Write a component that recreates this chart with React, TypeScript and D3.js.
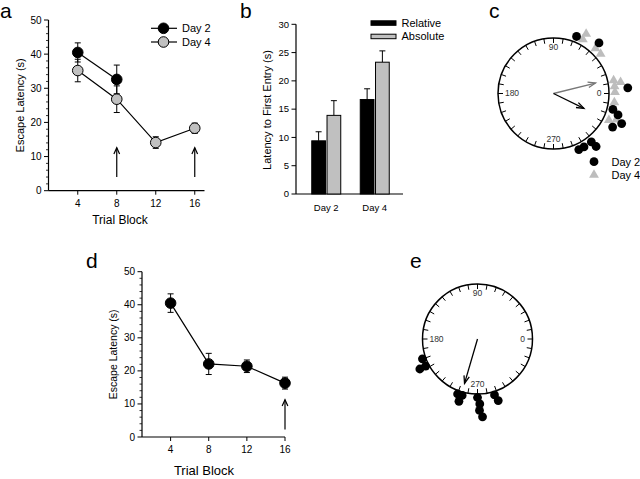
import React from 'react';
import * as d3 from 'd3';

// ---------- data ----------
const trialBlocks = [4, 8, 12, 16];
const day2Blocks = [4, 8];
const day2Latency = [40.5, 32.6];
const day2Err = [2.8, 4.2];
const day4Latency = [35.2, 26.8, 14.1, 18.3];
const day4Err = [3.3, 3.9, 1.7, 1.5];
const arrowBlocksA = [8, 16];
const latencyTicks = [0, 10, 20, 30, 40, 50];

const barGroups = ['Day 2', 'Day 4'];
const barSeries = ['Relative', 'Absolute'];
const relativeLatency = [9.4, 16.7];
const relativeErr = [1.6, 1.9];
const absoluteLatency = [13.9, 23.3];
const absoluteErr = [2.6, 2.0];
const entryTicks = [0, 5, 10, 15, 20, 25, 30];

const dLatency = [40.5, 22.1, 21.4, 16.3];
const dErr = [2.8, 3.2, 1.9, 1.8];
const arrowBlocksD = [16];

const cDay2Angles = [68, 48, 4.4, 345, 341.6, 336.2, 330.4, 308.8, 308, 299.7, 294.3];
const cDay2Levels = [0, 1, 2, 0, 1, 2, 1, 1, 0, 0, 0];
const cDay4Angles = [61.5, 61.3, 47, 40, 12.2, 9.6, 6.6, 1.2, 351.6, 334.2, 337.4];
const cDay4Levels = [0, 1, 0, 0, 0, 1, 0, 0, 0, 0, 1];
const cMeanAngles = [14, 334]; // Day 4 (gray), Day 2 (black)
const cMeanLengths = [0.78, 0.61];
const eAngles = [199.8, 207.6, 207.5, 250.1, 254.8, 253.4, 270, 272, 271.6, 273.7, 286.9, 288.6];
const eLevels = [0, 0, 1, 0, 0, 1, 0, 1, 2, 3, 0, 1];
const eMeanAngle = 253.7;
const eMeanLength = 0.84;
const dialLabels = [0, 90, 180, 270];

const FONT = '"Liberation Sans", Arial, sans-serif';
const GRAY = '#c0c0c0';

// ---------- helpers ----------
const angleScale = d3.scaleLinear().domain([0, 360]).range([0, 2 * Math.PI]);

function polar(cx: number, cy: number, deg: number, dist: number) {
  const a = angleScale(deg);
  return [cx + dist * Math.cos(a), cy - dist * Math.sin(a)];
}

function arrowHead(x1: number, y1: number, x2: number, y2: number, len = 7, spread = 0.4) {
  const ang = Math.atan2(y2 - y1, x2 - x1);
  const a1 = ang + Math.PI - spread;
  const a2 = ang + Math.PI + spread;
  return `M${x2 + len * Math.cos(a1)},${y2 + len * Math.sin(a1)}L${x2},${y2}L${x2 + len * Math.cos(a2)},${y2 + len * Math.sin(a2)}`;
}

function ErrBar({ x, y0, y1, w = 3 }: { x: number; y0: number; y1: number; w?: number }) {
  return (
    <g stroke="#000" strokeWidth={1}>
      <line x1={x} x2={x} y1={y0} y2={y1} />
      <line x1={x - w} x2={x + w} y1={y0} y2={y0} />
      <line x1={x - w} x2={x + w} y1={y1} y2={y1} />
    </g>
  );
}

function YAxis({ y, x, ticks, minor, fontSize }: { y: d3.ScaleLinear<number, number>; x: number; ticks: number[]; minor: number[]; fontSize: number }) {
  const [r0, r1] = y.range();
  return (
    <g>
      <line x1={x} x2={x} y1={r0} y2={r1} stroke="#000" strokeWidth={1.2} />
      {minor.map((t) => (
        <line key={'m' + t} x1={x - 2.5} x2={x} y1={y(t)} y2={y(t)} stroke="#000" strokeWidth={0.8} />
      ))}
      {ticks.map((t) => (
        <g key={t}>
          <line x1={x - 4.5} x2={x} y1={y(t)} y2={y(t)} stroke="#000" strokeWidth={1} />
          <text x={x - 7} y={y(t)} dy="0.35em" textAnchor="end" fontSize={fontSize} fontFamily={FONT}>{t}</text>
        </g>
      ))}
    </g>
  );
}

function LatencyPanel(props: {
  xRange: [number, number]; xDomain: [number, number]; yRange: [number, number];
  series: { blocks: number[]; vals: number[]; errs: number[]; fill: string }[];
  arrows: number[]; arrowFrom: number; arrowTo: number;
  yLabelX: number; xLabelY: number; xLabelX: number; yLabelSize: number; xLabelSize: number;
}) {
  const x = d3.scaleLinear().domain(props.xDomain).range(props.xRange);
  const y = d3.scaleLinear().domain([0, 50]).range(props.yRange);
  const line = d3.line<[number, number]>().x((d) => x(d[0])).y((d) => y(d[1]));
  const x0 = props.xRange[0];
  const minor = d3.range(0, 51, 2).filter((v) => v % 10 !== 0);
  return (
    <g>
      <line x1={x0} x2={props.xRange[1]} y1={y(0)} y2={y(0)} stroke="#000" strokeWidth={1.2} />
      {trialBlocks.map((t) => (
        <g key={t}>
          <line x1={x(t)} x2={x(t)} y1={y(0)} y2={y(0) + 4} stroke="#000" />
          <text x={x(t)} y={y(0) + 16} textAnchor="middle" fontSize={10} fontFamily={FONT}>{t}</text>
        </g>
      ))}
      <YAxis y={y} x={x0} ticks={latencyTicks} minor={minor} fontSize={10} />
      <text transform={`translate(${props.yLabelX},${(props.yRange[0] + props.yRange[1]) / 2}) rotate(-90)`} textAnchor="middle" fontSize={props.yLabelSize} fontFamily={FONT}>Escape Latency (s)</text>
      <text x={props.xLabelX} y={props.xLabelY} textAnchor="middle" fontSize={props.xLabelSize} fontFamily={FONT}>Trial Block</text>
      {props.arrows.map((b) => (
        <g key={b} stroke="#000" strokeWidth={1.2} fill="none">
          <line x1={x(b)} x2={x(b)} y1={y(props.arrowFrom)} y2={y(props.arrowTo)} />
          <path d={arrowHead(x(b), y(props.arrowFrom), x(b), y(props.arrowTo), 7, 0.42)} />
        </g>
      ))}
      {props.series.map((s, si) => (
        <g key={si}>
          <path d={line(s.blocks.map((b, i) => [b, s.vals[i]]) as [number, number][]) || ''} fill="none" stroke="#000" strokeWidth={1.2} />
          {s.blocks.map((b, i) => (
            <ErrBar key={b} x={x(b)} y0={y(s.vals[i] + s.errs[i])} y1={y(s.vals[i] - s.errs[i])} />
          ))}
          {s.blocks.map((b, i) => (
            <circle key={'c' + b} cx={x(b)} cy={y(s.vals[i])} r={5.3} fill={s.fill} stroke="#000" strokeWidth={1} />
          ))}
        </g>
      ))}
    </g>
  );
}

function Dial(props: {
  cx: number; cy: number; r: number; base: number; step: number;
  groups: { angles: number[]; levels: number[]; shape: 'circle' | 'triangle'; fill: string }[];
  means: { angle: number; len: number; color: string }[];
}) {
  const { cx, cy, r } = props;
  const lvl = d3.scaleLinear().domain([0, 1]).range([r + props.base, r + props.base + props.step]);
  const tickAngles = d3.range(0, 360, 10);
  const tri = d3.symbol().type(d3.symbolTriangle).size(42)();
  return (
    <g>
      <circle cx={cx} cy={cy} r={r} fill="#fff" stroke="#000" strokeWidth={1.5} />
      {tickAngles.map((a) => {
        const [x1, y1] = polar(cx, cy, a, r);
        const [x2, y2] = polar(cx, cy, a, r - 5);
        return <line key={a} x1={x1} y1={y1} x2={x2} y2={y2} stroke="#000" strokeWidth={1} />;
      })}
      {dialLabels.map((a) => {
        const [lx, ly] = polar(cx, cy, a, a === 180 ? r - 14 : a === 0 ? r - 10 : r - 9.5);
        return (
          <text key={a} x={lx} y={ly} dy="0.35em" textAnchor="middle" fontSize={8.5} fill="#333" fontFamily={FONT}>{a}</text>
        );
      })}
      {props.means.map((m, i) => {
        const [ex, ey] = polar(cx, cy, m.angle, m.len * r);
        return (
          <g key={i} stroke={m.color} strokeWidth={1.3} fill="none">
            <line x1={cx} y1={cy} x2={ex} y2={ey} />
            <path d={arrowHead(cx, cy, ex, ey, 8, 0.35)} />
          </g>
        );
      })}
      {props.groups.map((g, gi) => (
        <g key={gi}>
          {g.angles.map((a, i) => {
            const [px, py] = polar(cx, cy, a, lvl(g.levels[i]));
            return g.shape === 'circle' ? (
              <circle key={i} cx={px} cy={py} r={4.4} fill={g.fill} />
            ) : (
              <path key={i} d={tri || ''} transform={`translate(${px},${py})`} fill={g.fill} />
            );
          })}
        </g>
      ))}
    </g>
  );
}

export default function App() {
  // panel b scales
  const yb = d3.scaleLinear().domain([0, 30]).range([194, 24.3]);
  const xb = d3.scaleBand<string>().domain(barGroups).range([302, 399]).padding(0);
  const xs = d3.scaleBand<string>().domain(barSeries)
    .range([xb.bandwidth() / 2 - 14.5, xb.bandwidth() / 2 + 14.5]).paddingInner(0.1);
  const seriesVals = [relativeLatency, absoluteLatency];
  const seriesErrs = [relativeErr, absoluteErr];
  const seriesFill = ['#000', GRAY];
  const triLegend = d3.symbol().type(d3.symbolTriangle).size(42)();

  return (
    <svg width={640} height={479} style={{ position: 'absolute', left: 0, top: 0, background: '#fff' }}>
      {/* panel labels */}
      <g fontFamily={FONT} fontSize={21}>
        <text x={0} y={18}>a</text>
        <text x={240} y={18}>b</text>
        <text x={489} y={18}>c</text>
        <text x={86} y={268}>d</text>
        <text x={410} y={268}>e</text>
      </g>

      {/* panel a */}
      <LatencyPanel
        xRange={[48.5, 204.5]} xDomain={[1, 17]} yRange={[190.7, 20]}
        series={[
          { blocks: day2Blocks, vals: day2Latency, errs: day2Err, fill: '#000' },
          { blocks: trialBlocks, vals: day4Latency, errs: day4Err, fill: GRAY },
        ]}
        arrows={arrowBlocksA} arrowFrom={4} arrowTo={12.6}
        yLabelX={24} xLabelY={224} xLabelX={120} yLabelSize={11} xLabelSize={12}
      />
      <g fontFamily={FONT} fontSize={11}>
        {['Day 2', 'Day 4'].map((lab, i) => (
          <g key={lab}>
            <line x1={151} x2={177} y1={28.3 + i * 13.7} y2={28.3 + i * 13.7} stroke="#000" strokeWidth={1.2} />
            <circle cx={163.5} cy={28.3 + i * 13.7} r={5.3} fill={i === 0 ? '#000' : GRAY} stroke="#000" />
            <text x={182} y={28.3 + i * 13.7} dy="0.35em">{lab}</text>
          </g>
        ))}
      </g>

      {/* panel b */}
      <g>
        <line x1={296} x2={403} y1={yb(0)} y2={yb(0)} stroke="#000" strokeWidth={1.2} />
        <YAxis y={yb} x={296} ticks={entryTicks} minor={[]} fontSize={9.5} />
        {barGroups.map((g, gi) => (
          <g key={g}>
            {barSeries.map((s, si) => {
              const bx = (xb(g) || 0) + (xs(s) || 0);
              const v = seriesVals[si][gi];
              const e = seriesErrs[si][gi];
              const cxm = bx + xs.bandwidth() / 2;
              return (
                <g key={s}>
                  <line x1={cxm} x2={cxm} y1={yb(v)} y2={yb(v + e)} stroke="#000" />
                  <line x1={cxm - 3} x2={cxm + 3} y1={yb(v + e)} y2={yb(v + e)} stroke="#000" />
                  <rect x={bx} y={yb(v)} width={xs.bandwidth()} height={yb(0) - yb(v)} fill={seriesFill[si]} stroke="#000" strokeWidth={1} />
                </g>
              );
            })}
            <text x={(xb(g) || 0) + xb.bandwidth() / 2} y={211} textAnchor="middle" fontSize={9.5} fontFamily={FONT}>{g}</text>
          </g>
        ))}
        <text transform={`translate(271,110) rotate(-90)`} textAnchor="middle" fontSize={11} fontFamily={FONT}>Latency to First Entry (s)</text>
        {barSeries.map((s, si) => (
          <g key={s}>
            <rect x={371} y={20.8 + si * 13.4} width={25} height={4.5} fill={seriesFill[si]} stroke="#000" strokeWidth={1} />
            <text x={401.5} y={23 + si * 13.4} dy="0.35em" fontSize={11} fontFamily={FONT}>{s}</text>
          </g>
        ))}
      </g>

      {/* panel c */}
      <Dial
        cx={553.5} cy={93.5} r={55.5} base={6} step={6.5}
        groups={[
          { angles: cDay4Angles, levels: cDay4Levels, shape: 'triangle', fill: '#bdbdbd' },
          { angles: cDay2Angles, levels: cDay2Levels, shape: 'circle', fill: '#000' },
        ]}
        means={[
          { angle: cMeanAngles[0], len: cMeanLengths[0], color: '#777' },
          { angle: cMeanAngles[1], len: cMeanLengths[1], color: '#000' },
        ]}
      />
      <g fontFamily={FONT} fontSize={11}>
        <circle cx={594} cy={161.7} r={4.4} fill="#000" />
        <text x={611.5} y={161.7} dy="0.35em">Day 2</text>
        <path d={triLegend || ''} transform="translate(594,175)" fill="#bdbdbd" />
        <text x={611.5} y={175.5} dy="0.35em">Day 4</text>
      </g>

      {/* panel d */}
      <LatencyPanel
        xRange={[142, 285]} xDomain={[1, 16]} yRange={[437, 271.7]}
        series={[{ blocks: trialBlocks, vals: dLatency, errs: dErr, fill: '#000' }]}
        arrows={arrowBlocksD} arrowFrom={2.3} arrowTo={11.3}
        yLabelX={117} xLabelY={475} xLabelX={204} yLabelSize={10.5} xLabelSize={13}
      />

      {/* panel e */}
      <Dial
        cx={477.5} cy={339} r={55} base={3.5} step={6.5}
        groups={[{ angles: eAngles, levels: eLevels, shape: 'circle', fill: '#000' }]}
        means={[{ angle: eMeanAngle, len: eMeanLength, color: '#000' }]}
      />
    </svg>
  );
}
